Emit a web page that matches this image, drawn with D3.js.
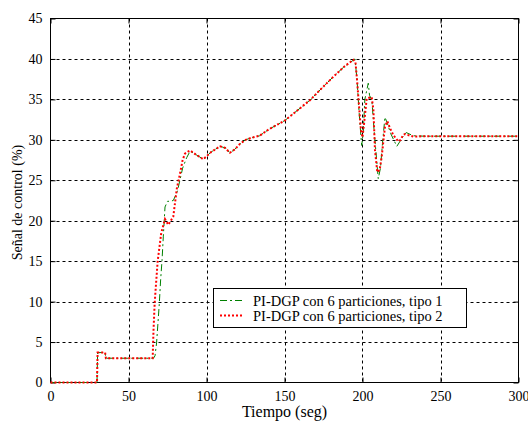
<!DOCTYPE html>
<html>
<head>
<meta charset="utf-8">
<script src="https://cdn.jsdelivr.net/npm/d3@7"></script>
<style>
  body { margin: 0; background: #fff; }
  svg { display: block; }
  svg text { font-family: 'Liberation Serif', 'Times New Roman', serif; font-weight: normal; }
</style>
</head>
<body>
<svg id="chart" width="528" height="421"></svg>
<script>
const xTicks = [0, 50, 100, 150, 200, 250, 300];
const yTicks = [0, 5, 10, 15, 20, 25, 30, 35, 40, 45];
const xLabel = "Tiempo (seg)";
const yLabel = "Señal de control (%)";
const seriesNames = ["PI-DGP con 6 particiones, tipo 1", "PI-DGP con 6 particiones, tipo 2"];

const tipo2T = [0,29.8,30.2,35,35.5,65.5,66,66.8,68.7,71,73.4,75.5,78.7,81,83,84.7,86.2,89.4,93,98,103,108.7,112,115,118,121.5,125,128,134,140,150.3,158,166.3,174,181.3,188,194.1,195.5,196.5,197.8,199,200,201,202.7,205.9,207,208,209.5,211,212.3,214.4,215.9,217.5,219.7,223,224.5,226,227.2,232.6,240,300];
const tipo2V = [0,0,3.7,3.7,3.0,3.0,6.3,9.9,15,18.5,20.2,19.5,20.5,24,25.8,27.5,28.3,28.7,28.2,27.6,28.5,29.2,29.0,28.4,28.8,29.5,30.0,30.2,30.5,31.3,32.4,33.6,34.9,36.4,37.8,39.0,39.9,39.6,37.4,34.1,31.2,30.3,32.0,35.1,35.3,33.7,28.7,26.0,26.3,27.9,31.6,32.3,31.5,30.6,29.8,30.0,30.6,30.7,30.4,30.45,30.45];

const tipo1T = [0,29.8,30.2,35,35.5,66,67,68,69.7,70.6,71.5,72.3,73.4,75,76.6,78.7,81.3,84.7,87.3,89.5,93,98,103,108.7,112,115,118,121.5,125,128,134,140,150.3,158,166.3,174,181.3,188,195.2,196.5,197.8,199,199.5,200.5,201.5,202.7,203.7,204.5,206,207.5,210.1,211.5,213,214.4,216,218,222,224,226,228,232.6,240,300];
const tipo1V = [0,0,3.7,3.7,3.0,3.0,3.3,4.9,9.6,12.7,15.1,18.0,21.7,22.4,22.4,22.5,23.6,26.5,27.8,28.6,28.2,27.6,28.5,29.2,29.0,28.4,28.8,29.5,30.0,30.2,30.5,31.3,32.4,33.6,34.9,36.4,37.8,39.0,40.0,37.4,33.5,30.4,29.3,31.0,35.0,36.1,37.0,35.5,34.9,31.0,25.2,26.5,30.0,32.8,32.0,30.8,29.2,29.8,30.4,30.9,30.5,30.45,30.45];

const FONT = "'Liberation Serif', 'Times New Roman', serif";
const svg = d3.select("#chart").attr("font-family", FONT);
const L = 50.5, R = 518.5, T = 18.5, B = 382.5;
const x = d3.scaleLinear().domain([0, 300]).range([L, R]);
const y = d3.scaleLinear().domain([0, 45]).range([B, T]);

// grid
const grid = svg.append("g");
grid.selectAll("line.vx").data(xTicks.slice(1, -1)).enter().append("line")
  .attr("x1", d => Math.round(x(d)) + 0.5).attr("x2", d => Math.round(x(d)) + 0.5)
  .attr("y1", T).attr("y2", B)
  .attr("stroke", "#000").attr("stroke-width", 1).attr("stroke-dasharray", "3,3");
grid.selectAll("line.hy").data(yTicks.slice(1, -1)).enter().append("line")
  .attr("y1", d => Math.round(y(d)) + 0.5).attr("y2", d => Math.round(y(d)) + 0.5)
  .attr("x1", L).attr("x2", R)
  .attr("stroke", "#000").attr("stroke-width", 1).attr("stroke-dasharray", "3,3");

// axes
const xAxisB = d3.axisBottom(x).tickValues(xTicks).tickSize(-5).tickPadding(9).tickFormat(d3.format("d"));
const xAxisT = d3.axisTop(x).tickValues(xTicks).tickSize(-5).tickFormat("");
const yAxisL = d3.axisLeft(y).tickValues(yTicks).tickSize(-5).tickPadding(8).tickFormat(d3.format("d"));
const yAxisR = d3.axisRight(y).tickValues(yTicks).tickSize(-5).tickFormat("");

function style(g) {
  g.attr("font-family", FONT).attr("font-size", 14);
  g.select(".domain").remove();
  g.selectAll("line").attr("stroke", "#000");
  g.selectAll("text").attr("fill", "#000");
}
svg.append("g").attr("transform", `translate(0,${B})`).call(xAxisB).call(style);
svg.append("g").attr("transform", `translate(0,${T})`).call(xAxisT).call(style);
svg.append("g").attr("transform", `translate(${L},0)`).call(yAxisL).call(style);
svg.append("g").attr("transform", `translate(${R},0)`).call(yAxisR).call(style);

svg.append("rect").attr("x", L).attr("y", T).attr("width", R - L).attr("height", B - T)
  .attr("fill", "none").attr("stroke", "#000").attr("stroke-width", 1);

// lines
const line = d3.line().x(d => x(d[0])).y(d => y(d[1]));
const s1 = tipo1T.map((t, i) => [t, tipo1V[i]]);
const s2 = tipo2T.map((t, i) => [t, tipo2V[i]]);

svg.append("path").datum(s1).attr("d", line).attr("fill", "none")
  .attr("stroke", "#008000").attr("stroke-width", 1).attr("stroke-dasharray", "7,3,2,3");
svg.append("path").datum(s2).attr("d", line).attr("fill", "none")
  .attr("stroke", "#ff0000").attr("stroke-width", 2).attr("stroke-dasharray", "2,2");

// axis labels
svg.append("text").attr("x", (L + R) / 2).attr("y", 417).attr("text-anchor", "middle")
  .attr("font-size", 16).text(xLabel);
svg.append("text").attr("transform", `translate(22,${(T + B) / 2 + 2}) rotate(-90)`)
  .attr("text-anchor", "middle").attr("font-size", 14).text(yLabel);

// legend
const lg = svg.append("g");
lg.append("rect").attr("x", 213.5).attr("y", 288.5).attr("width", 253).attr("height", 39)
  .attr("fill", "#fff").attr("stroke", "#000").attr("stroke-width", 1);
const rows = [
  { name: seriesNames[0], color: "#008000", w: 1, dash: "7,3,2,3", yy: 300.5 },
  { name: seriesNames[1], color: "#ff0000", w: 2, dash: "2,2", yy: 315.5 }
];
rows.forEach(r => {
  lg.append("line").attr("x1", 220).attr("x2", 242).attr("y1", r.yy).attr("y2", r.yy)
    .attr("stroke", r.color).attr("stroke-width", r.w).attr("stroke-dasharray", r.dash);
  lg.append("text").attr("x", 253).attr("y", r.yy + 5).attr("font-size", 14.5).text(r.name);
});
</script>
</body>
</html>
